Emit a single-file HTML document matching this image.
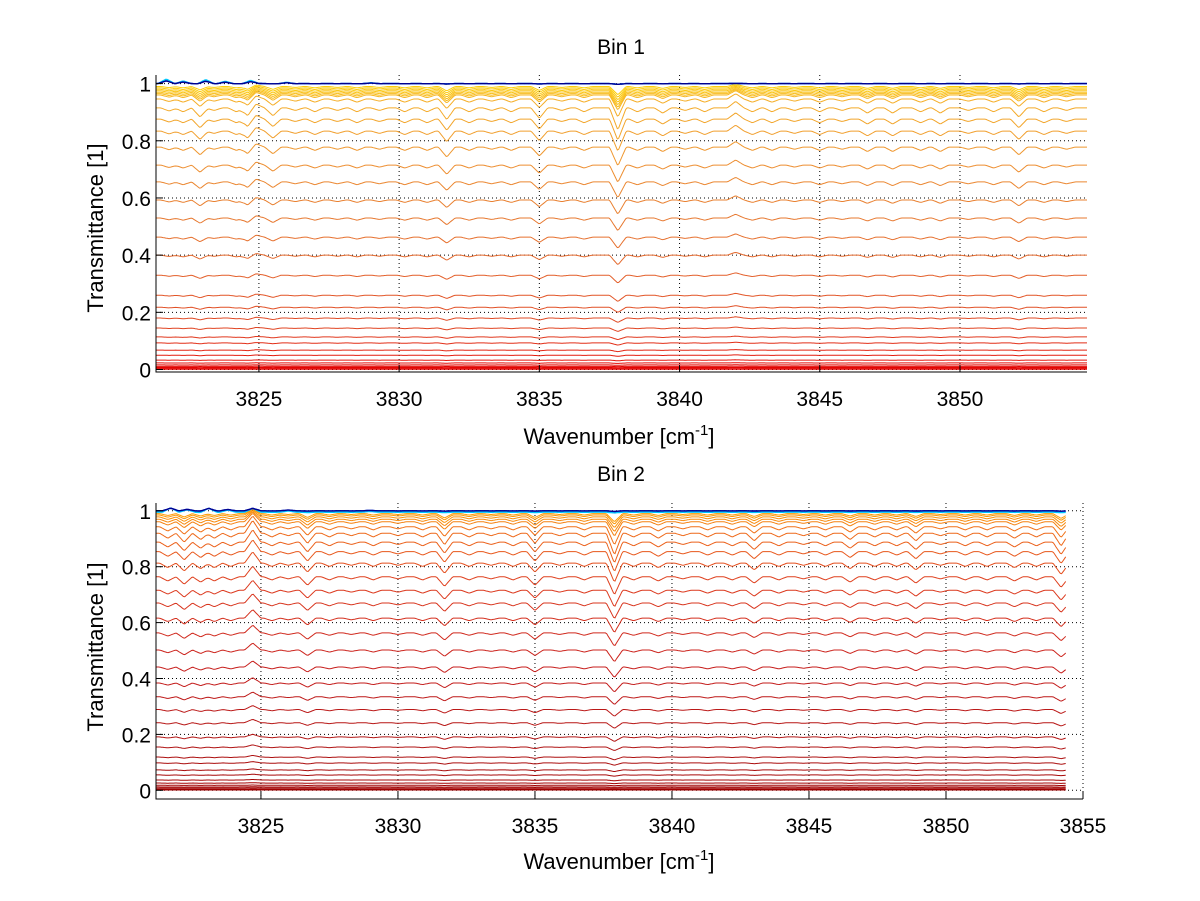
<!DOCTYPE html>
<html><head><meta charset="utf-8"><style>
html,body{margin:0;padding:0;background:#fff;}
svg{display:block;font-family:"Liberation Sans",Arial,sans-serif;}
</style></head><body>
<svg id="chart" width="1200" height="901" viewBox="0 0 1200 901" xmlns="http://www.w3.org/2000/svg">
<rect width="1200" height="901" fill="#fff"/>
<defs>
<clipPath id="clip1"><rect x="156" y="70" width="931" height="302"/></clipPath>
<clipPath id="clip2"><rect x="156" y="498" width="927" height="302"/></clipPath>
</defs>
<g id="p1"></g>
<g id="p2"></g>
</svg>
<script>
// ---- data ----
const xTicks1 = [3825, 3830, 3835, 3840, 3845, 3850];
const xTicks2 = [3825, 3830, 3835, 3840, 3845, 3850, 3855];
const yTicks = [0, 0.2, 0.4, 0.6, 0.8, 1];
const yTickLabels = ["0", "0.2", "0.4", "0.6", "0.8", "1"];
const levels1 = [1.0, 1.0, 1.0, 0.99, 0.985, 0.98, 0.975, 0.97, 0.965, 0.96, 0.946, 0.915, 0.876, 0.834, 0.778, 0.715, 0.656, 0.593, 0.53, 0.463, 0.4, 0.33, 0.26, 0.218, 0.18, 0.145, 0.114, 0.093, 0.068, 0.05, 0.033, 0.023, 0.016, 0.011, 0.007, 0.004, 0.001];
const levels2 = [1.0, 1.0, 0.995, 0.99, 0.985, 0.978, 0.97, 0.961, 0.943, 0.92, 0.888, 0.854, 0.813, 0.764, 0.716, 0.67, 0.616, 0.563, 0.502, 0.441, 0.384, 0.335, 0.289, 0.242, 0.191, 0.155, 0.119, 0.098, 0.073, 0.055, 0.037, 0.026, 0.018, 0.012, 0.008, 0.004, 0.001];
const linePos1 = [3821.8, 3822.3, 3822.9, 3823.4, 3824.2, 3824.6, 3824.9, 3825.5, 3826.3, 3827.0, 3827.8, 3828.5, 3829.3, 3830.2, 3831.0, 3831.7, 3832.5, 3833.3, 3834.0, 3835.0, 3835.8, 3836.6, 3837.8, 3838.5, 3839.4, 3840.2, 3840.9, 3842.0, 3842.6, 3843.3, 3844.1, 3845.0, 3845.8, 3846.7, 3847.6, 3848.6, 3849.3, 3850.3, 3851.2, 3852.1, 3853.0, 3853.8];
const lineDepth1 = [0.012, 0.015, 0.035, 0.01, 0.015, 0.03, -0.015, 0.03, 0.01, 0.015, 0.01, 0.015, 0.01, 0.015, 0.015, 0.045, 0.015, 0.01, 0.015, 0.04, 0.01, 0.015, 0.085, 0.015, 0.02, 0.01, 0.015, -0.025, 0.015, 0.015, 0.01, 0.015, 0.01, 0.02, 0.02, 0.015, 0.02, 0.01, 0.015, 0.035, 0.015, 0.01];
const linePos2 = [3821.6, 3822.2, 3822.8, 3823.3, 3823.9, 3824.7, 3825.4, 3826.0, 3826.7, 3827.5, 3828.3, 3829.1, 3830.0, 3830.9, 3831.7, 3832.6, 3833.4, 3834.2, 3835.0, 3835.9, 3836.8, 3837.9, 3838.6, 3839.5, 3840.4, 3841.3, 3842.2, 3843.0, 3843.9, 3844.8, 3845.6, 3846.5, 3847.4, 3848.2, 3848.9, 3849.8, 3850.7, 3851.5, 3852.5, 3853.3, 3854.2];
const lineDepth2 = [0.02, 0.035, 0.025, 0.02, 0.015, -0.05, 0.015, 0.01, 0.04, 0.015, 0.01, 0.015, 0.01, 0.015, 0.045, 0.015, 0.01, 0.015, 0.04, 0.01, 0.015, 0.085, 0.015, 0.02, 0.01, 0.015, 0.015, 0.03, 0.015, 0.01, 0.015, 0.025, 0.015, 0.015, 0.03, 0.01, 0.015, 0.015, 0.02, 0.015, 0.05];
const blueBumpPos = [3821.7, 3822.3, 3823.1, 3823.8, 3824.7, 3826.0, 3829.0];
const blueBumpHeight = [0.02, 0.012, 0.018, 0.01, 0.015, 0.006, 0.004];

// ---- helpers ----
const NS = "http://www.w3.org/2000/svg";
function mk(tag, attrs, parent) {
  const e = document.createElementNS(NS, tag);
  for (const k in attrs) e.setAttribute(k, attrs[k]);
  parent.appendChild(e);
  return e;
}
function lerpColor(stops, t) {
  for (let i = 0; i < stops.length - 1; i++) {
    const a = stops[i], b = stops[i + 1];
    if (t <= a[0] && t >= b[0]) {
      const f = (a[0] - t) / (a[0] - b[0] || 1);
      const c = [0, 1, 2].map(j => Math.round(a[1][j] + (b[1][j] - a[1][j]) * f));
      return "rgb(" + c.join(",") + ")";
    }
  }
  const l = stops[stops.length - 1][1];
  return "rgb(" + l.join(",") + ")";
}
const stops1 = [[1.0,[255,215,0]],[0.95,[245,175,40]],[0.7,[236,140,50]],[0.4,[228,105,45]],[0.15,[224,70,35]],[0.03,[228,20,10]],[0,[225,0,0]]];
const stops2 = [[1.0,[255,165,0]],[0.94,[240,110,25]],[0.75,[222,60,30]],[0.45,[200,30,28]],[0.15,[175,18,18]],[0,[160,0,0]]];
const blues = ["#00008f", "#0050ff", "#00c8ff"];

function profile(nu, pos, depth) {
  let a = 0;
  for (let i = 0; i < pos.length; i++) {
    const d = Math.abs(nu - pos[i]);
    if (d < 0.3) a += depth[i] * (1 - d / 0.3);
  }
  return a;
}

function drawPlot(cfg) {
  const g = document.getElementById(cfg.id);
  const X = v => cfg.xL + (v - cfg.x0) / (cfg.x1 - cfg.x0) * (cfg.xR - cfg.xL);
  const Y = t => cfg.y0px - t * cfg.ypx;
  cfg.xTicks.forEach(v => {
    const gl = mk("line", {x1: X(v), x2: X(v), y1: cfg.top, y2: cfg.bottom, stroke: "#000", "stroke-width": 1, "stroke-dasharray": "1,3"}, g);
    
    
  });
  yTicks.forEach(v => {
    const gl = mk("line", {x1: cfg.xL, x2: cfg.xR, y1: Y(v), y2: Y(v), stroke: "#000", "stroke-width": 1, "stroke-dasharray": "1,3"}, g);
    
    
  });
  const sg = mk("g", {"clip-path": "url(#" + cfg.clip + ")"}, g);
  
  
  const order = cfg.levels.map((l, i) => i).reverse();
  order.forEach(i => {
    const L = cfg.levels[i];
    const isBlue = i < 3;
    const scale = Math.min(1, (1 - L) * 10 + 0.25);
    let pts = [];
    for (let nu = cfg.x0; nu <= cfg.xEnd; nu += 0.05) {
      let t;
      if (isBlue) {
        t = L + profile(nu, blueBumpPos, blueBumpHeight) * (i === 2 ? 0.8 : 0.5) - profile(nu, cfg.pos, cfg.depth) * 0.03;
      } else {
        t = L * (1 - profile(nu, cfg.pos, cfg.depth) * scale);
      }
      pts.push(X(nu).toFixed(1) + "," + Y(t).toFixed(1));
    }
    const col = isBlue ? blues[i] : lerpColor(cfg.stops, L);
    const pl = mk("polyline", {points: pts.join(" "), fill: "none", stroke: col, "stroke-width": isBlue ? 1.4 : 1}, sg);
    
    
  });
  const ax = mk("path", {d: "M" + cfg.xL + "," + cfg.top + " V" + cfg.bottom + " H" + cfg.xR, fill: "none", stroke: "#000", "stroke-width": 1}, g);
  
  
  cfg.xTicks.forEach(v => {
    const tk = mk("line", {x1: X(v), x2: X(v), y1: cfg.bottom, y2: cfg.bottom - 7, stroke: "#000"}, g);
    
    
    const tx = mk("text", {x: X(v), y: cfg.bottom + 34, "font-size": 21, "text-anchor": "middle", fill: "#000"}, g);
    tx.textContent = String(v);
    
    
  });
  yTicks.forEach((v, i) => {
    const tk = mk("line", {x1: cfg.xL, x2: cfg.xL + 7, y1: Y(v), y2: Y(v), stroke: "#000"}, g);
    
    
    const tx = mk("text", {x: cfg.xL - 5, y: Y(v) + 8, "font-size": 21, "text-anchor": "end", fill: "#000"}, g);
    tx.textContent = yTickLabels[i];
    
    
  });
  const ti = mk("text", {x: 621, y: cfg.titleY, "font-size": 21, "text-anchor": "middle", fill: "#000"}, g);
  ti.textContent = cfg.title;
  
  
  const xl = mk("text", {x: 619, y: cfg.xlabY, "font-size": 22, "text-anchor": "middle", fill: "#000"}, g);
  xl.innerHTML = 'Wavenumber [cm<tspan dy="-9" font-size="15">-1</tspan><tspan dy="9">]</tspan>';
  
  
  const yl = mk("text", {x: 0, y: 0, "font-size": 22, "text-anchor": "middle", fill: "#000", transform: "translate(103," + cfg.ylabY + ") rotate(-90)"}, g);
  yl.textContent = "Transmittance [1]";
  
  
}

drawPlot({id: "p1", clip: "clip1", xL: 156, xR: 1087, x0: 3821.33, x1: 3854.53, xEnd: 3854.6,
  y0px: 369.5, ypx: 285.9, top: 75, bottom: 372, xTicks: xTicks1, levels: levels1,
  pos: linePos1, depth: lineDepth1, stops: stops1, title: "Bin 1", titleY: 54, xlabY: 444, ylabY: 228});
drawPlot({id: "p2", clip: "clip2", xL: 156, xR: 1083, x0: 3821.17, x1: 3855, xEnd: 3854.4,
  y0px: 790.3, ypx: 279.5, top: 503, bottom: 799, xTicks: xTicks2, levels: levels2,
  pos: linePos2, depth: lineDepth2, stops: stops2, title: "Bin 2", titleY: 481, xlabY: 869, ylabY: 647});
</script>
</body></html>
